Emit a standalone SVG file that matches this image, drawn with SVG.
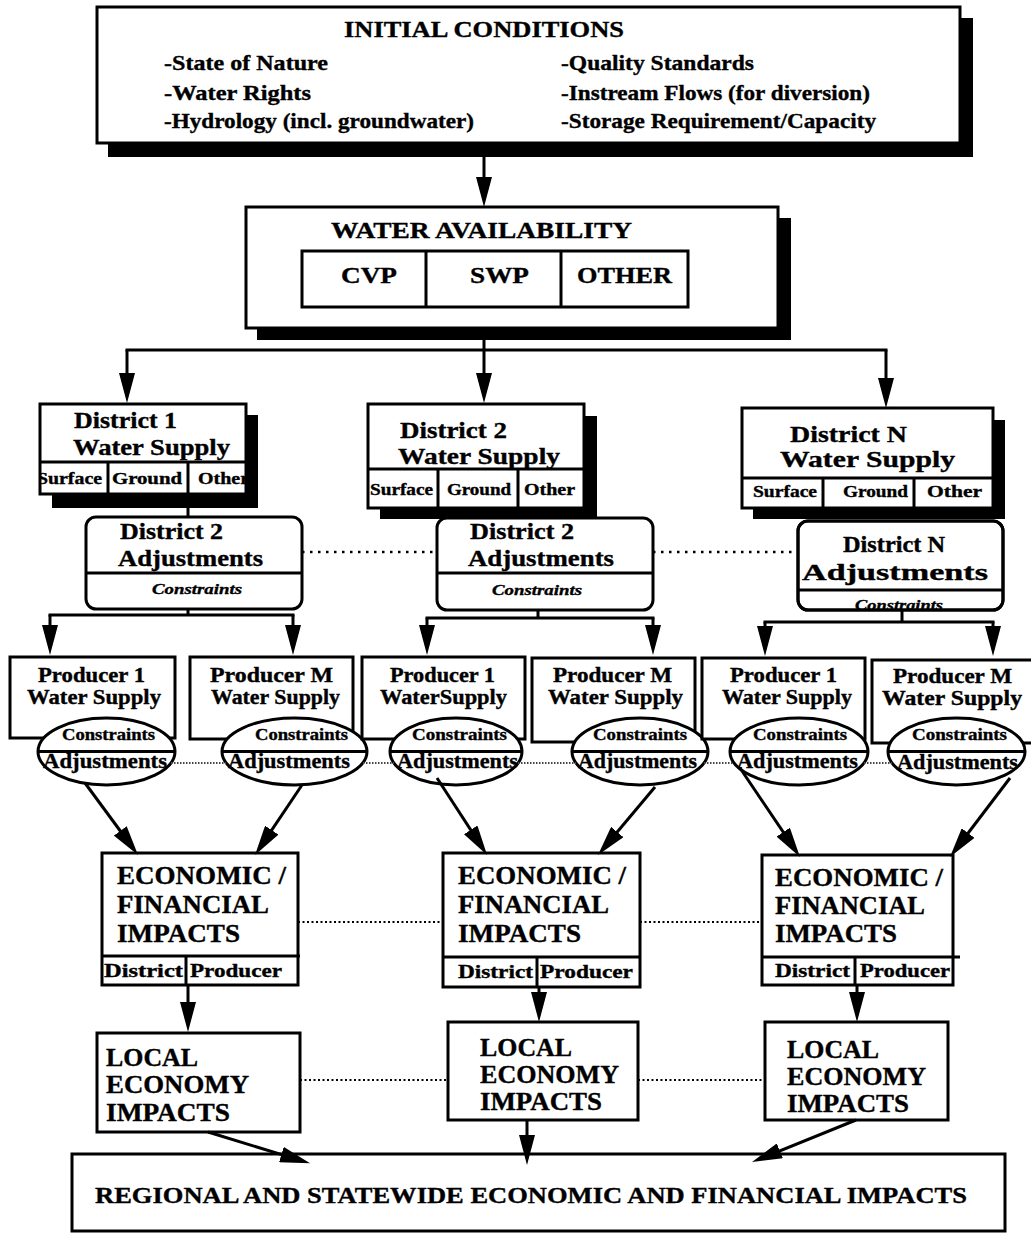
<svg xmlns="http://www.w3.org/2000/svg" width="1031" height="1234" viewBox="0 0 1031 1234">
<style>
.b{fill:#fff;stroke:#000;stroke-width:3}
.sh{fill:#000}
.t{font-family:"Liberation Serif","Times New Roman",serif;font-weight:bold;fill:#000;stroke:#000;stroke-width:0.35}
.i{font-style:italic}
.ln{stroke:#000;stroke-width:3;fill:none}
.ar{marker-end:url(#ah)}
.dot{stroke:#000;stroke-width:2.5;stroke-dasharray:2.5 5.5;fill:none}
.fine{stroke:#000;stroke-width:1.8;stroke-dasharray:2 2.5;fill:none}
.stip{stroke:#444;stroke-width:2;stroke-dasharray:1.5 1.5;fill:none}
</style>
<defs>
<marker id="ah" viewBox="0 0 30 16" refX="20" refY="8" markerWidth="30" markerHeight="16" markerUnits="userSpaceOnUse" orient="auto">
<path d="M0,0 L30,8 L0,16 z" fill="#000"/>
</marker>
<clipPath id="c1"><rect x="40" y="462" width="205" height="31"/></clipPath>
<clipPath id="cN"><rect x="798" y="521" width="205" height="89" rx="10"/></clipPath>
</defs>
<rect width="1031" height="1234" fill="#fff"/>

<g id="initial">
<rect class="sh" x="108" y="18" width="865" height="139"/>
<rect class="b" x="97" y="7" width="863" height="136"/>
<text class="t" x="344" y="37" font-size="23" textLength="280" lengthAdjust="spacingAndGlyphs">INITIAL CONDITIONS</text>
<text class="t" x="164" y="70" font-size="21" textLength="164" lengthAdjust="spacingAndGlyphs">-State of Nature</text>
<text class="t" x="164" y="100" font-size="21" textLength="147" lengthAdjust="spacingAndGlyphs">-Water Rights</text>
<text class="t" x="164" y="128" font-size="21" textLength="310" lengthAdjust="spacingAndGlyphs">-Hydrology (incl. groundwater)</text>
<text class="t" x="561" y="70" font-size="21" textLength="193" lengthAdjust="spacingAndGlyphs">-Quality Standards</text>
<text class="t" x="561" y="100" font-size="21" textLength="309" lengthAdjust="spacingAndGlyphs">-Instream Flows (for diversion)</text>
<text class="t" x="561" y="128" font-size="21" textLength="315" lengthAdjust="spacingAndGlyphs">-Storage Requirement/Capacity</text>
</g>

<g id="water-availability">
<rect class="sh" x="257" y="218" width="534" height="122"/>
<rect class="b" x="246" y="207" width="532" height="121"/>
<text class="t" x="331" y="238" font-size="24" textLength="301" lengthAdjust="spacingAndGlyphs">WATER AVAILABILITY</text>
<rect class="b" x="302" y="251" width="386" height="56"/>
<line class="ln" x1="426" y1="251" x2="426" y2="307"/>
<line class="ln" x1="561" y1="251" x2="561" y2="307"/>
<text class="t" x="341" y="283" font-size="24" textLength="56" lengthAdjust="spacingAndGlyphs">CVP</text>
<text class="t" x="470" y="283" font-size="24" textLength="59" lengthAdjust="spacingAndGlyphs">SWP</text>
<text class="t" x="577" y="283" font-size="24" textLength="95" lengthAdjust="spacingAndGlyphs">OTHER</text>
</g>

<g id="district1">
<rect class="sh" x="52" y="415" width="206" height="93"/>
<rect class="b" x="40" y="404" width="206" height="90"/>
<line class="ln" x1="40" y1="462" x2="246" y2="462"/>
<line class="ln" x1="108" y1="462" x2="108" y2="494"/>
<line class="ln" x1="188" y1="462" x2="188" y2="494"/>
<text class="t" x="74" y="428" font-size="23" textLength="103" lengthAdjust="spacingAndGlyphs">District 1</text>
<text class="t" x="73" y="455" font-size="23" textLength="157" lengthAdjust="spacingAndGlyphs">Water Supply</text>
<g clip-path="url(#c1)">
<text class="t" x="37" y="484" font-size="16" textLength="65" lengthAdjust="spacingAndGlyphs">Surface</text>
<text class="t" x="112" y="484" font-size="16" textLength="70" lengthAdjust="spacingAndGlyphs">Ground</text>
<text class="t" x="198" y="484" font-size="16" textLength="51" lengthAdjust="spacingAndGlyphs">Other</text>
</g>
</g>

<g id="district2">
<rect class="sh" x="380" y="416" width="217" height="103"/>
<rect class="b" x="368" y="404" width="216" height="104"/>
<line class="ln" x1="368" y1="469" x2="584" y2="469"/>
<line class="ln" x1="438" y1="469" x2="438" y2="508"/>
<line class="ln" x1="518" y1="469" x2="518" y2="508"/>
<text class="t" x="400" y="438" font-size="23" textLength="107" lengthAdjust="spacingAndGlyphs">District 2</text>
<text class="t" x="398" y="464" font-size="23" textLength="162" lengthAdjust="spacingAndGlyphs">Water Supply</text>
<text class="t" x="370" y="495" font-size="16" textLength="63" lengthAdjust="spacingAndGlyphs">Surface</text>
<text class="t" x="447" y="495" font-size="16" textLength="64" lengthAdjust="spacingAndGlyphs">Ground</text>
<text class="t" x="524" y="495" font-size="16" textLength="51" lengthAdjust="spacingAndGlyphs">Other</text>
</g>

<g id="districtN">
<rect class="sh" x="753" y="420" width="252" height="99"/>
<rect class="b" x="742" y="408" width="251" height="100"/>
<line class="ln" x1="742" y1="478" x2="993" y2="478"/>
<line class="ln" x1="823" y1="478" x2="823" y2="508"/>
<line class="ln" x1="914" y1="478" x2="914" y2="508"/>
<text class="t" x="790" y="442" font-size="23" textLength="117" lengthAdjust="spacingAndGlyphs">District N</text>
<text class="t" x="780" y="467" font-size="23" textLength="175" lengthAdjust="spacingAndGlyphs">Water Supply</text>
<text class="t" x="753" y="497" font-size="16" textLength="64" lengthAdjust="spacingAndGlyphs">Surface</text>
<text class="t" x="843" y="497" font-size="16" textLength="65" lengthAdjust="spacingAndGlyphs">Ground</text>
<text class="t" x="927" y="497" font-size="16" textLength="55" lengthAdjust="spacingAndGlyphs">Other</text>
</g>

<g id="adjust1">
<rect class="b" x="86" y="517" width="216" height="92" rx="10"/>
<line class="ln" x1="86" y1="573" x2="302" y2="573"/>
<text class="t" x="120" y="539" font-size="23" textLength="103" lengthAdjust="spacingAndGlyphs">District 2</text>
<text class="t" x="118" y="566" font-size="23" textLength="145" lengthAdjust="spacingAndGlyphs">Adjustments</text>
<text class="t i" x="152" y="594" font-size="15" textLength="90" lengthAdjust="spacingAndGlyphs">Constraints</text>
</g>

<g id="adjust2">
<rect class="b" x="437" y="518" width="216" height="92" rx="10"/>
<line class="ln" x1="437" y1="573" x2="653" y2="573"/>
<text class="t" x="470" y="539" font-size="23" textLength="104" lengthAdjust="spacingAndGlyphs">District 2</text>
<text class="t" x="468" y="566" font-size="23" textLength="146" lengthAdjust="spacingAndGlyphs">Adjustments</text>
<text class="t i" x="492" y="595" font-size="15" textLength="90" lengthAdjust="spacingAndGlyphs">Constraints</text>
</g>

<g id="adjustN">
<rect class="b" x="798" y="521" width="205" height="89" rx="10"/>
<line class="ln" x1="798" y1="590" x2="1003" y2="590"/>
<text class="t" x="843" y="552" font-size="23" textLength="102" lengthAdjust="spacingAndGlyphs">District N</text>
<text class="t" x="802" y="580" font-size="23" textLength="186" lengthAdjust="spacingAndGlyphs">Adjustments</text>
<g clip-path="url(#cN)"><text class="t i" x="855" y="610" font-size="15" textLength="88" lengthAdjust="spacingAndGlyphs">Constraints</text></g>
<rect x="798" y="521" width="205" height="89" rx="10" fill="none" stroke="#000" stroke-width="3"/>
</g>

<g id="producer1a">
<rect class="b" x="10" y="657" width="165" height="81"/>
<text class="t" x="38" y="682" font-size="20" textLength="107" lengthAdjust="spacingAndGlyphs">Producer 1</text>
<text class="t" x="27" y="704" font-size="20" textLength="134" lengthAdjust="spacingAndGlyphs">Water Supply</text>
<ellipse class="b" cx="106.5" cy="751.5" rx="68.5" ry="33.5"/>
<line class="ln" x1="38" y1="751.5" x2="175" y2="751.5"/>
<text class="t" x="62" y="740" font-size="16" textLength="93" lengthAdjust="spacingAndGlyphs">Constraints</text>
<text class="t" x="43" y="768" font-size="21" textLength="124" lengthAdjust="spacingAndGlyphs">Adjustments</text>
</g>

<g id="producerMa">
<rect class="b" x="190" y="657" width="163" height="82"/>
<text class="t" x="210" y="682" font-size="20" textLength="123" lengthAdjust="spacingAndGlyphs">Producer  M</text>
<text class="t" x="211" y="704" font-size="20" textLength="129" lengthAdjust="spacingAndGlyphs">Water Supply</text>
<ellipse class="b" cx="294.5" cy="751.5" rx="72.5" ry="33.5"/>
<line class="ln" x1="222" y1="751.5" x2="367" y2="751.5"/>
<text class="t" x="255" y="740" font-size="16" textLength="93" lengthAdjust="spacingAndGlyphs">Constraints</text>
<text class="t" x="228" y="768" font-size="21" textLength="122" lengthAdjust="spacingAndGlyphs">Adjustments</text>
</g>

<g id="producer1b">
<rect class="b" x="362" y="657" width="163" height="82"/>
<text class="t" x="390" y="682" font-size="20" textLength="105" lengthAdjust="spacingAndGlyphs">Producer 1</text>
<text class="t" x="380" y="704" font-size="20" textLength="127" lengthAdjust="spacingAndGlyphs">WaterSupply</text>
<ellipse class="b" cx="456" cy="751.5" rx="66" ry="33.5"/>
<line class="ln" x1="390" y1="751.5" x2="522" y2="751.5"/>
<text class="t" x="412" y="740" font-size="16" textLength="95" lengthAdjust="spacingAndGlyphs">Constraints</text>
<text class="t" x="397" y="768" font-size="21" textLength="121" lengthAdjust="spacingAndGlyphs">Adjustments</text>
</g>

<g id="producerMb">
<rect class="b" x="532" y="658" width="163" height="84"/>
<text class="t" x="553" y="682" font-size="20" textLength="119" lengthAdjust="spacingAndGlyphs">Producer M</text>
<text class="t" x="548" y="704" font-size="20" textLength="135" lengthAdjust="spacingAndGlyphs">Water Supply</text>
<ellipse class="b" cx="640" cy="751.5" rx="68" ry="33.5"/>
<line class="ln" x1="572" y1="751.5" x2="708" y2="751.5"/>
<text class="t" x="593" y="740" font-size="16" textLength="94" lengthAdjust="spacingAndGlyphs">Constraints</text>
<text class="t" x="578" y="768" font-size="21" textLength="119" lengthAdjust="spacingAndGlyphs">Adjustments</text>
</g>

<g id="producer1c">
<rect class="b" x="702" y="658" width="163" height="81"/>
<text class="t" x="730" y="682" font-size="20" textLength="107" lengthAdjust="spacingAndGlyphs">Producer 1</text>
<text class="t" x="722" y="704" font-size="20" textLength="130" lengthAdjust="spacingAndGlyphs">Water Supply</text>
<ellipse class="b" cx="799" cy="751.5" rx="69" ry="33.5"/>
<line class="ln" x1="730" y1="751.5" x2="868" y2="751.5"/>
<text class="t" x="753" y="740" font-size="16" textLength="94" lengthAdjust="spacingAndGlyphs">Constraints</text>
<text class="t" x="737" y="768" font-size="21" textLength="121" lengthAdjust="spacingAndGlyphs">Adjustments</text>
</g>

<g id="producerMc">
<rect class="b" x="872" y="660" width="170" height="83"/>
<text class="t" x="893" y="683" font-size="20" textLength="119" lengthAdjust="spacingAndGlyphs">Producer M</text>
<text class="t" x="882" y="705" font-size="20" textLength="140" lengthAdjust="spacingAndGlyphs">Water Supply</text>
<ellipse class="b" cx="956.5" cy="751.5" rx="68.5" ry="33.5"/>
<line class="ln" x1="888" y1="751.5" x2="1025" y2="751.5"/>
<text class="t" x="912" y="740" font-size="16" textLength="95" lengthAdjust="spacingAndGlyphs">Constraints</text>
<text class="t" x="897" y="769" font-size="21" textLength="121" lengthAdjust="spacingAndGlyphs">Adjustments</text>
</g>

<g id="econ1">
<rect class="b" x="102" y="853" width="196" height="132"/>
<line class="ln" x1="102" y1="956" x2="300" y2="956"/>
<line class="ln" x1="186" y1="956" x2="186" y2="985"/>
<text class="t" x="117" y="884" font-size="25" textLength="169" lengthAdjust="spacingAndGlyphs">ECONOMIC /</text>
<text class="t" x="117" y="913" font-size="25" textLength="152" lengthAdjust="spacingAndGlyphs">FINANCIAL</text>
<text class="t" x="117" y="942" font-size="25" textLength="123" lengthAdjust="spacingAndGlyphs">IMPACTS</text>
<text class="t" x="104" y="977" font-size="18" textLength="79" lengthAdjust="spacingAndGlyphs">District</text>
<text class="t" x="190" y="977" font-size="18" textLength="92" lengthAdjust="spacingAndGlyphs">Producer</text>
</g>

<g id="econ2">
<rect class="b" x="443" y="853" width="197" height="134"/>
<line class="ln" x1="443" y1="957" x2="640" y2="957"/>
<line class="ln" x1="537" y1="957" x2="537" y2="987"/>
<text class="t" x="458" y="884" font-size="25" textLength="168" lengthAdjust="spacingAndGlyphs">ECONOMIC /</text>
<text class="t" x="458" y="913" font-size="25" textLength="151" lengthAdjust="spacingAndGlyphs">FINANCIAL</text>
<text class="t" x="458" y="942" font-size="25" textLength="123" lengthAdjust="spacingAndGlyphs">IMPACTS</text>
<text class="t" x="458" y="978" font-size="18" textLength="75" lengthAdjust="spacingAndGlyphs">District</text>
<text class="t" x="540" y="978" font-size="18" textLength="93" lengthAdjust="spacingAndGlyphs">Producer</text>
</g>

<g id="econN">
<rect class="b" x="762" y="855" width="191" height="130"/>
<line class="ln" x1="762" y1="957" x2="960" y2="957"/>
<line class="ln" x1="855" y1="957" x2="855" y2="985"/>
<text class="t" x="775" y="886" font-size="25" textLength="168" lengthAdjust="spacingAndGlyphs">ECONOMIC /</text>
<text class="t" x="775" y="914" font-size="25" textLength="150" lengthAdjust="spacingAndGlyphs">FINANCIAL</text>
<text class="t" x="775" y="942" font-size="25" textLength="122" lengthAdjust="spacingAndGlyphs">IMPACTS</text>
<text class="t" x="775" y="977" font-size="18" textLength="75" lengthAdjust="spacingAndGlyphs">District</text>
<text class="t" x="860" y="977" font-size="18" textLength="90" lengthAdjust="spacingAndGlyphs">Producer</text>
</g>

<g id="local1">
<rect class="b" x="97" y="1033" width="203" height="99"/>
<text class="t" x="106" y="1066" font-size="25" textLength="92" lengthAdjust="spacingAndGlyphs">LOCAL</text>
<text class="t" x="106" y="1093" font-size="25" textLength="143" lengthAdjust="spacingAndGlyphs">ECONOMY</text>
<text class="t" x="106" y="1121" font-size="25" textLength="124" lengthAdjust="spacingAndGlyphs">IMPACTS</text>
</g>

<g id="local2">
<rect class="b" x="448" y="1022" width="190" height="98"/>
<text class="t" x="480" y="1056" font-size="25" textLength="92" lengthAdjust="spacingAndGlyphs">LOCAL</text>
<text class="t" x="480" y="1083" font-size="25" textLength="139" lengthAdjust="spacingAndGlyphs">ECONOMY</text>
<text class="t" x="480" y="1110" font-size="25" textLength="122" lengthAdjust="spacingAndGlyphs">IMPACTS</text>
</g>

<g id="localN">
<rect class="b" x="765" y="1022" width="183" height="98"/>
<text class="t" x="787" y="1058" font-size="25" textLength="92" lengthAdjust="spacingAndGlyphs">LOCAL</text>
<text class="t" x="787" y="1085" font-size="25" textLength="139" lengthAdjust="spacingAndGlyphs">ECONOMY</text>
<text class="t" x="787" y="1112" font-size="25" textLength="122" lengthAdjust="spacingAndGlyphs">IMPACTS</text>
</g>

<g id="regional">
<rect class="b" x="72" y="1154" width="933" height="77"/>
<text class="t" x="95" y="1203" font-size="24" textLength="872" lengthAdjust="spacingAndGlyphs">REGIONAL AND STATEWIDE ECONOMIC AND FINANCIAL IMPACTS</text>
</g>

<g id="connectors">
<line class="ln ar" x1="484" y1="157" x2="484" y2="197"/>
<line class="ln" x1="484" y1="340" x2="484" y2="350"/>
<line class="ln" x1="125.5" y1="350" x2="887.5" y2="350"/>
<line class="ln ar" x1="484" y1="350" x2="484" y2="393"/>
<line class="ln ar" x1="127" y1="350" x2="127" y2="393"/>
<line class="ln ar" x1="886" y1="350" x2="886" y2="398"/>
<line class="ln" x1="188" y1="508" x2="188" y2="517"/>
<line class="dot" x1="302" y1="552" x2="437" y2="552"/>
<line class="dot" x1="653" y1="552" x2="798" y2="552"/>
<line class="ln" x1="188" y1="609" x2="188" y2="615"/>
<line class="ln" x1="48.5" y1="615" x2="294.5" y2="615"/>
<line class="ln ar" x1="50" y1="615" x2="50" y2="645"/>
<line class="ln ar" x1="293" y1="615" x2="293" y2="645"/>
<line class="ln" x1="538" y1="610" x2="538" y2="618"/>
<line class="ln" x1="425.5" y1="618" x2="654.5" y2="618"/>
<line class="ln ar" x1="427" y1="618" x2="427" y2="645"/>
<line class="ln ar" x1="653" y1="618" x2="653" y2="645"/>
<line class="ln" x1="902" y1="610" x2="902" y2="622"/>
<line class="ln" x1="763.5" y1="622" x2="994.5" y2="622"/>
<line class="ln ar" x1="765" y1="622" x2="765" y2="646"/>
<line class="ln ar" x1="993" y1="622" x2="993" y2="646"/>
<line class="stip" x1="171" y1="763" x2="226" y2="763"/>
<line class="stip" x1="363" y1="763" x2="394" y2="763"/>
<line class="stip" x1="518" y1="763" x2="576" y2="763"/>
<line class="stip" x1="704" y1="763" x2="734" y2="763"/>
<line class="stip" x1="864" y1="763" x2="892" y2="763"/>
<line class="ln ar" x1="85" y1="783" x2="132.1" y2="847"/>
<line class="ln ar" x1="302" y1="785" x2="260.6" y2="846.7"/>
<line class="ln ar" x1="437" y1="778" x2="481.6" y2="846.6"/>
<line class="ln ar" x1="655" y1="787" x2="604.4" y2="847.3"/>
<line class="ln ar" x1="740" y1="768" x2="794.4" y2="848.7"/>
<line class="ln ar" x1="1010" y1="778" x2="956" y2="849"/>
<line class="fine" x1="298" y1="922" x2="443" y2="922"/>
<line class="fine" x1="640" y1="922" x2="762" y2="922"/>
<line class="ln ar" x1="188" y1="985" x2="188" y2="1022"/>
<line class="ln ar" x1="539" y1="987" x2="539" y2="1012"/>
<line class="ln ar" x1="857" y1="985" x2="857" y2="1012"/>
<line class="fine" x1="300" y1="1080" x2="448" y2="1080"/>
<line class="fine" x1="638" y1="1080" x2="765" y2="1080"/>
<line class="ln ar" x1="208" y1="1132" x2="300.5" y2="1160.4"/>
<line class="ln ar" x1="527" y1="1120" x2="527" y2="1155"/>
<line class="ln ar" x1="856" y1="1120" x2="761.3" y2="1158.3"/>
</g>
</svg>
